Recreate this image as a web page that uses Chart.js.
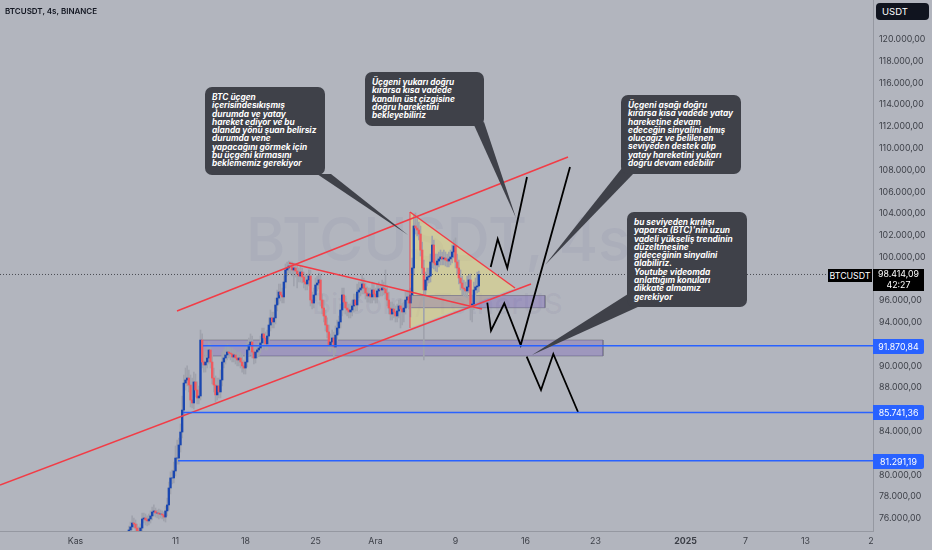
<!DOCTYPE html>
<html>
<head>
<meta charset="utf-8">
<title>BTCUSDT, 4s, BINANCE</title>
<script src="https://cdn.jsdelivr.net/npm/chart.js@4"></script>
<style>
    html, body { margin: 0; padding: 0; background: #b2b5be; }
    #wrap { position: relative; width: 932px; height: 550px; overflow: hidden; font-family: Inter, "Noto Sans", sans-serif; }
    #wrap canvas { position: absolute; left: 0; top: 0; z-index: 2; }
    #tails { position: absolute; left: 0; top: 0; z-index: 3; }
    .mark { position: absolute; left: 0; white-space: nowrap; color: rgba(88, 80, 140, 0.07); font-weight: 500; z-index: 1; }
    .title { position: absolute; left: 5px; top: 6px; font-size: 8px; font-weight: 600; color: #131722; z-index: 4; }
    .unit { position: absolute; left: 876px; top: 3px; width: 53px; height: 17px; line-height: 17px; box-sizing: border-box; padding-left: 6px; border-radius: 4px; background: #10141f; color: #fff; font-size: 9.5px; z-index: 4; }
    .note { position: absolute; box-sizing: border-box; background: #3f4149; border-radius: 7px; color: #fff; font-size: 8.3px; font-weight: 700; font-style: italic; line-height: 8.3px; z-index: 4; white-space: nowrap; }
    .tag { position: absolute; background: #2962ff; color: #fff; font-size: 8.8px; line-height: 15px; height: 15px; left: 873px; width: 51px; text-align: center; border-radius: 0 2px 2px 0; z-index: 4; }
    .now { position: absolute; background: #000; color: #fff; font-size: 8.8px; z-index: 4; }
</style>
</head>
<body>
<div id="wrap">
    <div class="mark" style="left:246px;top:203px;font-size:60px;">BTCUSDT, 4s</div>
    <div class="mark" style="left:312px;top:286px;font-size:29px;">Bitcoin / TetherUS</div>
    <canvas id="chart" width="932" height="550"></canvas>
    <svg id="tails" width="932" height="550">
        <polygon fill="#3f4149" points="317,174 331,174 408,235"/>
        <polygon fill="#3f4149" points="474,125 484,122 516,218"/>
        <polygon fill="#3f4149" points="622,168 634,173 545,265"/>
        <polygon fill="#3f4149" points="628,294 640,306 532,355"/>
    </svg>
    <div class="title">BTCUSDT, 4s, BINANCE</div>
    <div class="unit">USDT</div>
    <div class="note" style="left:205px;top:87px;width:120px;height:88px;padding:6px 0 0 7px;">BTC üçgen<br>içerisindesıkışmış<br>durumda ve yatay<br>hareket ediyor ve bu<br>alanda yönü şuan belirsiz<br>durumda vene<br>yapacağını görmek için<br>bu üçgeni kırmasını<br>beklememiz gerekiyor</div>
    <div class="note" style="left:365px;top:72px;width:119px;height:54px;padding:6px 0 0 7px;">Üçgeni yukarı doğru<br>kırarsa kısa vadede<br>kanalın üst çizgisine<br>doğru hareketini<br>bekleyebiliriz</div>
    <div class="note" style="left:621px;top:95px;width:120px;height:79px;padding:6px 0 0 7px;">Üçgeni aşağı doğru<br>kırarsa kısa vadede yatay<br>hareketine devam<br>edeceğin sinyalini almış<br>olucağız ve belilenen<br>seviyeden destek alıp<br>yatay hareketini yukarı<br>doğru devam edebilir</div>
    <div class="note" style="left:627px;top:212px;width:120px;height:95px;padding:6px 0 0 7px;">bu seviyeden kırılışı<br>yaparsa (BTC)'nin uzun<br>vadeli yükseliş trendinin<br>düzeltmesine<br>gideceğinin sinyalini<br>alabiliriz.<br>Youtube videomda<br>anlattığım konuları<br>dikkate almamız<br>gerekiyor</div>
    <div class="now" style="left:828px;top:269px;width:44px;height:13px;line-height:13px;text-align:center;">BTCUSDT</div>
    <div class="now" style="left:873px;top:269px;width:51px;height:22px;line-height:10.5px;text-align:center;">98.414,09<br>42:27</div>
    <div class="tag" style="top:338.5px;">91.870,84</div>
    <div class="tag" style="top:404.5px;">85.741,36</div>
    <div class="tag" style="top:453.5px;">81.291,19</div>
</div>
<script>
// x axis is days since 1 Kas, y axis is price in USDT
const xMin = -7.55;
const xMax = 79.75;
const yMin = 74847;
const yMax = 123630;

const xTickDays = [0, 10, 17, 24, 30, 38, 45, 52, 61, 67, 73, 79.55];
const xTickLabels = ['Kas', '11', '18', '25', 'Ara', '9', '16', '23', '2025', '7', '13', '2'];
const yTicks = [120000, 118000, 116000, 114000, 112000, 110000, 108000, 106000, 104000, 102000, 100000,
    96000, 94000, 90000, 88000, 84000, 80000, 78000, 76000];
const yTickLabels = ['120.000,00', '118.000,00', '116.000,00', '114.000,00', '112.000,00', '110.000,00', '108.000,00',
    '106.000,00', '104.000,00', '102.000,00', '100.000,00', '96.000,00', '94.000,00', '90.000,00', '88.000,00',
    '84.000,00', '80.000,00', '78.000,00', '76.000,00'];

// 4 hour bars, one every 1/6 day
const firstBarDay = 5.333;
const closes = [
    74940, 75220, 75580, 75490, 75120, 74850,
    74660, 75120, 75950, 76040, 75860, 75770,
    75950, 76230, 76590, 76690, 76500, 76500,
    76410, 76410, 76320, 76130, 76690, 77240,
    78800, 79720, 79720, 80360, 81550, 81550,
    82750, 83940, 85960, 88440, 88720, 88900,
    88260, 86880, 86610, 88540, 87800, 87070,
    87250, 92390, 90370, 90100, 90370, 90740,
    91480, 90370, 88900, 88260, 87350, 88170,
    87620, 88720, 90370, 90740, 91020, 91290,
    91200, 91110, 90830, 91020, 90740, 90560,
    90740, 90370, 90010, 89820, 90370, 91480,
    91940, 92210, 91290, 90740, 91290, 91480,
    91660, 92120, 92950, 92580, 92030, 92760,
    93770, 94420, 94050, 94420, 95610, 96250,
    96800, 96530, 96350, 97720, 98830, 99010,
    99190, 99100, 98830, 99010, 98730, 98460,
    98270, 98640, 98180, 97720, 97540, 97910,
    98270, 96070, 95790, 96530, 97450, 97630,
    97910, 96070, 95330, 94600, 93770, 93130,
    91940, 92210, 92580, 91750, 92850, 93500,
    94050, 95150, 96530, 95880, 95330, 95150,
    94970, 95150, 95520, 96070, 95610, 96800,
    96990, 97170, 97540, 97170, 96710, 96440,
    96620, 96350, 96990, 96620, 96350, 96900,
    97080, 96990, 97170, 97080, 96710, 96070,
    95330, 94780, 95240, 94970, 94600, 95060,
    95520, 95240, 94970, 95330, 96070, 96350,
    95790, 96530, 99010, 102870, 102680, 102500,
    102130, 100660, 99010, 96990, 97910, 98180,
    98270, 99560, 101120, 99470, 99290, 99650,
    99840, 100020, 99840, 99930, 99740, 99650,
    99840, 100020, 100480, 101030, 99560, 99010,
    98090, 97630, 97170, 97080, 96900, 97270,
    97910, 95610, 95700, 96990, 97270, 97360,
    98414
];
const highs = [
    75300, 75670, 76230, 76040, 75860, 75490,
    75220, 75490, 76500, 76500, 76410, 76230,
    76410, 76690, 77050, 77240, 76960, 76780,
    76870, 76780, 76690, 76590, 77140, 77880,
    79350, 80270, 80450, 81190, 82660, 83210,
    83390, 84680, 87250, 89180, 89820, 90010,
    89640, 89180, 88900, 89450, 89270, 88540,
    88170, 93310, 92950, 91480, 91290, 91840,
    92210, 92030, 91290, 89820, 89090, 88900,
    88900, 89640, 91290, 91480, 91840, 92030,
    91840, 91660, 91660, 91480, 91480, 91290,
    91290, 91290, 91110, 90560, 91110, 92210,
    92580, 92950, 92760, 91840, 91840, 92030,
    92210, 92760, 93500, 93500, 93130, 93310,
    94420, 95150, 94970, 94970, 96250, 96990,
    97540, 97540, 97170, 98270, 99380, 99560,
    99650, 99560, 99560, 99470, 99380, 99190,
    99010, 99190, 99010, 98640, 98370, 98460,
    98830, 98830, 96800, 97170, 98090, 98270,
    98550, 98460, 96620, 96070, 95150, 94420,
    93770, 92950, 93310, 93130, 93680, 94230,
    94600, 95700, 97170, 97170, 96440, 95880,
    95700, 95700, 96070, 96620, 96620, 97540,
    97720, 97720, 98460, 98090, 97630, 97270,
    97170, 97170, 97720, 97630, 97170, 97540,
    97720, 97540, 97910, 97720, 98830, 97360,
    96800, 95880, 95880, 95700, 95520, 95700,
    96070, 96160, 95790, 95880, 96800, 96990,
    96990, 97170, 99930, 103970, 104060, 103600,
    103230, 102870, 101390, 99740, 98640, 99010,
    99010, 100290, 101950, 101580, 100290, 100290,
    100480, 100660, 100480, 100660, 100480, 100290,
    100480, 100660, 101120, 101580, 101770, 100290,
    99740, 98830, 98270, 97910, 97720, 98270,
    98370, 98460, 96530, 97720, 98090, 98640,
    98730
];
const lows = [
    74660, 74570, 74940, 75120, 74850, 74570,
    74480, 74390, 74850, 75580, 75400, 75310,
    75400, 75580, 75860, 76230, 76130, 76040,
    75950, 76040, 75950, 75770, 75670, 76230,
    76780, 78250, 79170, 79260, 79900, 80990,
    80990, 82100, 83390, 85410, 87800, 88170,
    87620, 86240, 86150, 86060, 87160, 86520,
    86520, 86880, 89820, 89450, 89450, 89820,
    90190, 89820, 88350, 87620, 86700, 86880,
    87070, 87070, 88170, 89820, 90190, 90560,
    90740, 90560, 90370, 90370, 90190, 90010,
    90010, 89820, 89450, 89270, 89270, 89910,
    90930, 91390, 90740, 90190, 90280, 90740,
    90930, 91200, 91570, 92030, 91480, 91480,
    92210, 93220, 93500, 93500, 93870, 95060,
    95700, 95980, 95790, 95790, 97170, 98270,
    98550, 98460, 98270, 97360, 98180, 97170,
    97720, 97720, 97630, 97170, 96990, 96990,
    97360, 95520, 95240, 95330, 95980, 96900,
    97080, 95520, 94780, 94050, 93220, 92580,
    91390, 91290, 91570, 90560, 91200, 92300,
    92950, 93500, 94600, 95330, 94780, 94600,
    94420, 94420, 94600, 94970, 95060, 95060,
    96250, 96440, 96620, 96620, 96160, 95880,
    95880, 95790, 95790, 96070, 95790, 95790,
    96350, 96440, 96440, 96530, 96160, 95520,
    94780, 94230, 94230, 94420, 94050, 94050,
    94420, 93500, 93770, 94050, 94780, 95520,
    95240, 94510, 96070, 98370, 102130, 101950,
    101580, 100110, 98460, 90560, 96440, 97360,
    97630, 97720, 99010, 98920, 98730, 98640,
    99100, 99290, 99290, 99290, 99190, 99100,
    99100, 99290, 99470, 99930, 99010, 98460,
    97540, 96990, 96530, 96440, 96350, 96250,
    96710, 94230, 94050, 95150, 96440, 96710,
    96800
];

const lastPrice = 98414.09;
const supportLevels = [
    { from: 12.75, price: 91870.84 },
    { from: 10.75, price: 85741.36 },
    { from: 10.25, price: 81291.19 }
];

// drawn on the chart, [day, price]
const channelTop = [[10.15, 95058], [49.25, 109206]];
const channelBottom = [[-7.55, 79072], [45.55, 97539]];
const fallingLine = [[21.35, 99468], [40.65, 95241]];
const triangleUpper = [[33.45, 104153], [43.95, 97172]];
const triangleLower = [[33.45, 93497], [43.95, 97172]];
const triangleEdge = [[33.45, 104153], [33.45, 93497]];
const scenarioUp = [[41.52, 99100], [42.22, 101670], [43.18, 99010], [45.15, 107370]];
const scenarioSwing = [[41.18, 95820], [41.55, 93250], [42.88, 95770], [44.52, 91930], [49.45, 108290]];
const scenarioDown = [[45.12, 90860], [46.55, 87800], [47.78, 91110], [50.25, 85780]];
const zones = [
    { from: 12.55, to: 52.75, top: 92390, bottom: 90930 },
    { from: 33.25, to: 46.95, top: 96480, bottom: 95360 }
];

const blue = '#1a47b0';
const red = '#ef5a5f';
const bars = closes.map((close, i) => ({
    x: firstBarDay + i / 6,
    open: i === 0 ? 74850 : closes[i - 1],
    close: close,
    high: highs[i],
    low: lows[i]
}));

function toPoints(pairs) {
    return pairs.map(p => ({ x: p[0], y: p[1] }));
}

function line(pairs, color, width, extra) {
    return Object.assign({
        type: 'line',
        data: toPoints(pairs),
        borderColor: color,
        borderWidth: width,
        pointRadius: 0,
        tension: 0,
        fill: false,
        order: 1
    }, extra || {});
}

const datasets = [];

// yellow triangle, filled between its two long sides
datasets.push(line(triangleUpper, 'transparent', 0, { fill: '+1', backgroundColor: 'rgba(245, 232, 110, 0.42)', order: 6 }));
datasets.push(line(triangleLower, 'transparent', 0, { order: 6 }));

zones.forEach(z => {
    datasets.push(line([[z.from, z.top], [z.to, z.top]], 'transparent', 0, { fill: '+1', backgroundColor: 'rgba(103, 72, 190, 0.27)', order: 5 }));
    datasets.push(line([[z.from, z.bottom], [z.to, z.bottom]], 'transparent', 0, { order: 5 }));
    datasets.push(line([[z.from, z.top], [z.to, z.top], [z.to, z.bottom], [z.from, z.bottom], [z.from, z.top]], 'rgba(120, 123, 134, 0.75)', 1, { order: 5 }));
});

datasets.push({
    type: 'bar',
    data: bars.map(b => ({ x: b.x, y: [b.low, b.high] })),
    backgroundColor: '#a0a3ad',
    barThickness: 1,
    grouped: false,
    order: 4
});
datasets.push({
    type: 'bar',
    data: bars.map(b => ({ x: b.x, y: [Math.min(b.open, b.close), Math.max(b.open, b.close)] })),
    backgroundColor: bars.map(b => (b.close >= b.open ? blue : red)),
    barThickness: 1.7,
    grouped: false,
    order: 3
});

datasets.push(line([[xMin, lastPrice], [xMax, lastPrice]], '#4a4c54', 1, { borderDash: [1, 2], order: 2 }));
supportLevels.forEach(l => {
    datasets.push(line([[l.from, l.price], [xMax, l.price]], '#2962ff', 1.5));
});
[channelTop, channelBottom, fallingLine, triangleUpper].forEach(pairs => {
    datasets.push(line(pairs, '#f23c46', 1.5));
});
datasets.push(line(triangleEdge, 'rgba(242, 60, 70, 0.35)', 1));
[scenarioUp, scenarioSwing, scenarioDown].forEach(pairs => {
    datasets.push(line(pairs, '#000000', 1.8));
});

new Chart(document.getElementById('chart').getContext('2d'), {
    type: 'bar',
    data: { datasets: datasets },
    options: {
        responsive: false,
        animation: false,
        devicePixelRatio: 1,
        layout: { padding: 0, autoPadding: false },
        plugins: { legend: { display: false }, tooltip: { enabled: false } },
        scales: {
            x: {
                type: 'linear',
                offset: false,
                min: xMin,
                max: xMax,
                grid: { display: false, drawTicks: false },
                border: { display: true, color: '#9598a1', width: 1 },
                afterBuildTicks: axis => {
                    axis.ticks = xTickDays.map(v => ({ value: v }));
                },
                afterFit: axis => {
                    axis.height = 19;
                    axis.paddingLeft = 0;
                    axis.paddingRight = 0;
                },
                ticks: {
                    autoSkip: false,
                    maxRotation: 0,
                    padding: 5,
                    color: '#3c3f47',
                    font: ctx => ({ family: 'Inter', size: 8.8, weight: ctx.tick && ctx.tick.value === 61 ? 'bold' : 'normal' }),
                    callback: (value, index) => xTickLabels[index]
                }
            },
            y: {
                position: 'right',
                min: yMin,
                max: yMax,
                grid: { display: false, drawTicks: false },
                border: { display: true, color: '#9598a1', width: 1 },
                afterBuildTicks: axis => {
                    axis.ticks = yTicks.map(v => ({ value: v }));
                },
                afterFit: axis => {
                    axis.width = 59;
                    axis.paddingTop = 0;
                    axis.paddingBottom = 0;
                },
                ticks: {
                    autoSkip: false,
                    padding: 6,
                    color: '#3c3f47',
                    font: { family: 'Inter', size: 8.8 },
                    callback: (value, index) => yTickLabels[index]
                }
            }
        }
    }
});
</script>
</body>
</html>
